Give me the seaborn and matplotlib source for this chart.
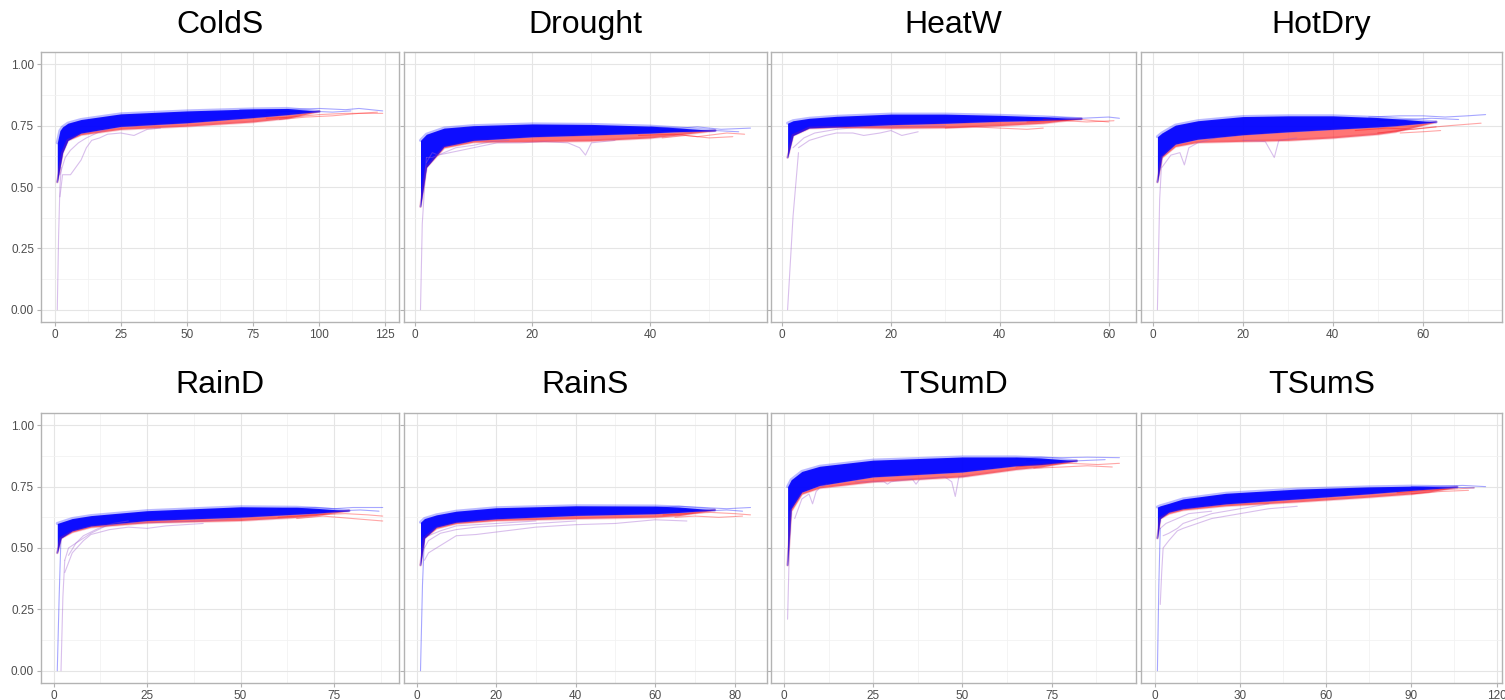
import numpy as np
import pandas as pd
import seaborn as sns
import matplotlib.pyplot as plt
from matplotlib.ticker import MultipleLocator

sns.set_theme(style='white')
plt.rcParams['font.family'] = ['Liberation Sans', 'DejaVu Sans']

PANELS = ['ColdS', 'Drought', 'HeatW', 'HotDry', 'RainD', 'RainS', 'TSumD', 'TSumS']
X_MAX = [124, 57, 62, 74, 88, 84, 94, 116]
X_STEP = [25, 20, 20, 20, 25, 20, 25, 30]

# dense band of curves read at a few x positions:
# top edge, lower edge of the blue curves, lower edge of the red curves
COLDS_X = [1, 2, 3, 5, 10, 25, 50, 75, 88, 100]
COLDS_TOP = [0.68, 0.73, 0.745, 0.76, 0.775, 0.798, 0.81, 0.818, 0.82, 0.808]
COLDS_MID = [0.52, 0.58, 0.64, 0.69, 0.72, 0.747, 0.762, 0.783, 0.795, 0.808]
COLDS_BOT = [0.52, 0.58, 0.64, 0.69, 0.713, 0.735, 0.748, 0.765, 0.78, 0.808]

DROUGHT_X = [1, 2, 5, 10, 20, 30, 40, 44, 51]
DROUGHT_TOP = [0.69, 0.715, 0.74, 0.75, 0.757, 0.755, 0.748, 0.742, 0.73]
DROUGHT_MID = [0.42, 0.58, 0.665, 0.69, 0.705, 0.712, 0.72, 0.725, 0.73]
DROUGHT_BOT = [0.42, 0.58, 0.66, 0.683, 0.685, 0.688, 0.70, 0.71, 0.73]

HEATW_X = [1, 2, 5, 10, 20, 30, 40, 48, 55]
HEATW_TOP = [0.76, 0.77, 0.78, 0.788, 0.797, 0.797, 0.792, 0.786, 0.778]
HEATW_MID = [0.62, 0.71, 0.741, 0.745, 0.754, 0.76, 0.768, 0.772, 0.778]
HEATW_BOT = [0.62, 0.71, 0.74, 0.743, 0.74, 0.742, 0.75, 0.76, 0.778]

HOTDRY_X = [1, 2, 5, 10, 20, 30, 40, 50, 54, 63]
HOTDRY_TOP = [0.705, 0.72, 0.752, 0.77, 0.787, 0.79, 0.79, 0.783, 0.778, 0.765]
HOTDRY_MID = [0.52, 0.625, 0.675, 0.695, 0.713, 0.725, 0.735, 0.745, 0.75, 0.765]
HOTDRY_BOT = [0.52, 0.62, 0.665, 0.682, 0.686, 0.69, 0.70, 0.715, 0.725, 0.765]

RAIND_X = [1, 2, 5, 10, 25, 50, 65, 70, 79]
RAIND_TOP = [0.60, 0.605, 0.62, 0.632, 0.652, 0.668, 0.666, 0.662, 0.652]
RAIND_MID = [0.48, 0.54, 0.57, 0.59, 0.612, 0.626, 0.638, 0.642, 0.652]
RAIND_BOT = [0.48, 0.54, 0.565, 0.585, 0.603, 0.612, 0.625, 0.632, 0.652]

RAINS_X = [1, 2, 5, 10, 20, 40, 60, 66, 75]
RAINS_TOP = [0.605, 0.62, 0.635, 0.65, 0.664, 0.672, 0.671, 0.667, 0.655]
RAINS_MID = [0.43, 0.54, 0.585, 0.605, 0.619, 0.633, 0.64, 0.645, 0.655]
RAINS_BOT = [0.43, 0.54, 0.58, 0.60, 0.612, 0.62, 0.626, 0.632, 0.655]

TSUMD_X = [1, 2, 5, 10, 25, 50, 65, 72, 82]
TSUMD_TOP = [0.75, 0.778, 0.812, 0.833, 0.858, 0.871, 0.871, 0.867, 0.855]
TSUMD_MID = [0.43, 0.66, 0.728, 0.755, 0.79, 0.81, 0.835, 0.84, 0.855]
TSUMD_BOT = [0.43, 0.65, 0.72, 0.745, 0.77, 0.79, 0.82, 0.83, 0.855]

TSUMS_X = [1, 2, 5, 10, 25, 50, 75, 90, 96, 106]
TSUMS_TOP = [0.667, 0.672, 0.682, 0.70, 0.723, 0.74, 0.749, 0.752, 0.751, 0.748]
TSUMS_MID = [0.54, 0.62, 0.646, 0.66, 0.68, 0.70, 0.721, 0.735, 0.74, 0.748]
TSUMS_BOT = [0.54, 0.62, 0.64, 0.655, 0.672, 0.688, 0.707, 0.72, 0.728, 0.748]

# single curves outside the band: (kind, x, y)  b=blue, r=red, p=mixed
COLDS_THIN = [
    ('p', [1, 1.5, 2, 2.5], [0.0, 0.30, 0.50, 0.58]),
    ('p', [2, 3, 4, 6, 8, 10, 12, 14, 17, 20, 25, 30, 32, 35, 40],
     [0.46, 0.55, 0.55, 0.55, 0.58, 0.61, 0.66, 0.69, 0.70, 0.715, 0.72, 0.71, 0.72, 0.735, 0.74]),
    ('p', [2, 4, 6, 9, 12, 16, 20], [0.55, 0.62, 0.65, 0.68, 0.70, 0.72, 0.735]),
    ('b', [70, 85, 100, 110, 115, 124], [0.815, 0.815, 0.82, 0.815, 0.82, 0.81]),
    ('b', [80, 95, 105, 112], [0.805, 0.81, 0.805, 0.81]),
    ('r', [80, 90, 100, 110, 124], [0.78, 0.785, 0.795, 0.80, 0.80]),
    ('r', [85, 95, 105, 115, 122], [0.775, 0.785, 0.79, 0.80, 0.805]),
]
DROUGHT_THIN = [
    ('p', [1, 1.3, 2], [0.0, 0.35, 0.62]),
    ('p', [2, 3, 4, 6, 8, 10, 14, 18, 22, 26, 28, 29, 30, 34],
     [0.60, 0.64, 0.63, 0.64, 0.65, 0.66, 0.68, 0.68, 0.685, 0.68, 0.66, 0.63, 0.68, 0.69]),
    ('p', [2, 3, 5, 7, 10, 13, 16], [0.62, 0.62, 0.64, 0.66, 0.67, 0.685, 0.69]),
    ('b', [40, 45, 48, 52, 57], [0.745, 0.74, 0.745, 0.735, 0.74]),
    ('b', [42, 47, 51, 55], [0.73, 0.725, 0.73, 0.725]),
    ('r', [38, 44, 48, 53, 56], [0.71, 0.715, 0.705, 0.72, 0.715]),
    ('r', [42, 46, 50, 54], [0.70, 0.71, 0.70, 0.705]),
]
HEATW_THIN = [
    ('p', [1, 2, 3], [0.0, 0.38, 0.64]),
    ('p', [3, 5, 8, 10, 13, 15, 18, 20, 22, 25],
     [0.66, 0.69, 0.71, 0.72, 0.72, 0.71, 0.72, 0.73, 0.71, 0.725]),
    ('p', [2, 4, 6, 10, 15, 20, 30], [0.66, 0.70, 0.72, 0.735, 0.745, 0.745, 0.75]),
    ('r', [30, 35, 40, 45, 48], [0.74, 0.745, 0.74, 0.735, 0.74]),
    ('b', [45, 50, 55, 60, 62], [0.78, 0.785, 0.78, 0.785, 0.78]),
    ('r', [45, 50, 55, 60], [0.765, 0.77, 0.775, 0.765]),
    ('r', [48, 52, 56, 61], [0.775, 0.77, 0.765, 0.77]),
]
HOTDRY_THIN = [
    ('p', [1, 1.5, 2], [0.0, 0.45, 0.62]),
    ('p', [2, 4, 6, 7, 8, 10, 14], [0.58, 0.63, 0.64, 0.59, 0.66, 0.68, 0.70]),
    ('p', [20, 25, 27, 28, 32], [0.69, 0.685, 0.62, 0.69, 0.70]),
    ('b', [48, 55, 60, 65, 70, 74], [0.785, 0.79, 0.79, 0.785, 0.79, 0.795]),
    ('b', [50, 56, 62, 68], [0.77, 0.775, 0.78, 0.775]),
    ('r', [45, 52, 58, 63], [0.73, 0.74, 0.735, 0.745]),
    ('r', [50, 55, 60, 66, 73], [0.72, 0.73, 0.74, 0.75, 0.76]),
    ('r', [55, 60, 64], [0.72, 0.725, 0.73]),
]
RAIND_THIN = [
    ('b', [1, 1.5, 2], [0.0, 0.30, 0.55]),
    ('p', [2, 2.5, 3], [0.0, 0.30, 0.45]),
    ('p', [3, 5, 8, 10, 15, 20, 25, 30, 35, 40],
     [0.40, 0.48, 0.53, 0.555, 0.575, 0.585, 0.58, 0.59, 0.595, 0.60]),
    ('p', [3, 4, 6, 10, 14, 20, 30, 40, 50], [0.45, 0.50, 0.52, 0.56, 0.59, 0.60, 0.605, 0.61, 0.62]),
    ('p', [4, 6, 8, 12, 16, 20], [0.47, 0.52, 0.55, 0.58, 0.60, 0.61]),
    ('b', [60, 70, 75, 80, 88], [0.66, 0.665, 0.66, 0.665, 0.665]),
    ('b', [68, 74, 82, 87], [0.655, 0.65, 0.655, 0.65]),
    ('r', [60, 70, 78, 84, 88], [0.625, 0.635, 0.64, 0.635, 0.63]),
    ('r', [65, 72, 80, 88], [0.62, 0.63, 0.62, 0.61]),
]
RAINS_THIN = [
    ('b', [1, 1.5, 2], [0.0, 0.35, 0.55]),
    ('p', [2, 3, 5, 8, 10, 15, 20, 30, 40, 50, 60, 68],
     [0.45, 0.48, 0.50, 0.53, 0.55, 0.555, 0.565, 0.585, 0.595, 0.60, 0.615, 0.61]),
    ('p', [2, 3, 6, 10, 15, 20, 30, 40], [0.50, 0.53, 0.56, 0.575, 0.585, 0.59, 0.60, 0.61]),
    ('p', [3, 6, 10, 20, 30], [0.55, 0.57, 0.59, 0.60, 0.61]),
    ('b', [60, 66, 72, 78, 84], [0.665, 0.67, 0.665, 0.66, 0.665]),
    ('b', [66, 72, 78, 82], [0.655, 0.65, 0.655, 0.65]),
    ('r', [62, 68, 74, 80, 84], [0.635, 0.64, 0.645, 0.64, 0.635]),
    ('r', [65, 70, 76, 82], [0.625, 0.63, 0.625, 0.63]),
]
TSUMD_THIN = [
    ('p', [1, 1.5, 2], [0.21, 0.50, 0.65]),
    ('p', [3, 5, 7, 8, 9, 10, 12], [0.62, 0.70, 0.72, 0.68, 0.73, 0.745, 0.76]),
    ('p', [20, 28, 29, 30, 36, 37, 38, 45, 47, 48, 49, 52],
     [0.77, 0.77, 0.76, 0.77, 0.78, 0.76, 0.78, 0.79, 0.77, 0.71, 0.79, 0.795]),
    ('b', [65, 72, 78, 85, 94], [0.865, 0.87, 0.868, 0.87, 0.868]),
    ('b', [68, 75, 82, 90], [0.855, 0.858, 0.855, 0.86]),
    ('r', [65, 72, 80, 88, 94], [0.83, 0.84, 0.845, 0.84, 0.845]),
    ('r', [70, 78, 85, 92], [0.825, 0.83, 0.835, 0.83]),
]
TSUMS_THIN = [
    ('b', [1, 1.5, 2], [0.0, 0.35, 0.58]),
    ('p', [2, 2.5, 3, 5, 8, 10, 15, 20, 25, 30, 40, 50],
     [0.27, 0.40, 0.50, 0.53, 0.57, 0.58, 0.60, 0.62, 0.63, 0.64, 0.66, 0.67]),
    ('p', [3, 5, 8, 10, 15, 20, 25, 30, 40], [0.55, 0.56, 0.58, 0.60, 0.62, 0.64, 0.65, 0.66, 0.68]),
    ('p', [2, 4, 8, 12, 20], [0.58, 0.60, 0.62, 0.64, 0.65]),
    ('b', [90, 100, 108, 116], [0.75, 0.752, 0.755, 0.75]),
    ('b', [92, 102, 112], [0.745, 0.748, 0.745]),
    ('r', [85, 95, 105, 112], [0.725, 0.735, 0.74, 0.745]),
    ('r', [90, 100, 110], [0.72, 0.73, 0.735]),
]

BANDS = [
    (COLDS_X, COLDS_TOP, COLDS_MID, COLDS_BOT, COLDS_THIN),
    (DROUGHT_X, DROUGHT_TOP, DROUGHT_MID, DROUGHT_BOT, DROUGHT_THIN),
    (HEATW_X, HEATW_TOP, HEATW_MID, HEATW_BOT, HEATW_THIN),
    (HOTDRY_X, HOTDRY_TOP, HOTDRY_MID, HOTDRY_BOT, HOTDRY_THIN),
    (RAIND_X, RAIND_TOP, RAIND_MID, RAIND_BOT, RAIND_THIN),
    (RAINS_X, RAINS_TOP, RAINS_MID, RAINS_BOT, RAINS_THIN),
    (TSUMD_X, TSUMD_TOP, TSUMD_MID, TSUMD_BOT, TSUMD_THIN),
    (TSUMS_X, TSUMS_TOP, TSUMS_MID, TSUMS_BOT, TSUMS_THIN),
]

KIND_COLOR = {'b': '#0000FF', 'r': '#FF0000', 'p': '#A060D0'}
KIND_ALPHA = {'b': 0.35, 'r': 0.35, 'p': 0.4}

W, H = 1505, 700
fig = plt.figure(figsize=(W / 100, H / 100), dpi=100)
fig.patch.set_facecolor('white')

col_l = [41, 404, 771, 1141]
col_r = [399, 767, 1136, 1502]
row_t = [52, 413]
row_b = [322, 683]

for i, name in enumerate(PANELS):
    r, c = divmod(i, 4)
    l, rr, t, b = col_l[c], col_r[c], row_t[r], row_b[r]
    ax = fig.add_axes([l / W, 1 - b / H, (rr - l) / W, (b - t) / H])
    bx, top, mid, bot, thin = BANDS[i]

    # thin single curves
    rows = []
    for k, (kind, xs, ys) in enumerate(thin):
        for x, y in zip(xs, ys):
            rows.append({'line': k, 'kind': kind, 'x': x, 'y': y})
    df = pd.DataFrame(rows)
    for kind in ['p', 'r', 'b']:
        sub = df[df['kind'] == kind]
        if len(sub):
            sns.lineplot(data=sub, x='x', y='y', units='line', estimator=None, sort=False,
                         color=KIND_COLOR[kind], alpha=KIND_ALPHA[kind], lw=0.8, ax=ax)

    # dense band: red curves underneath, blue ones on top
    ax.fill_between(bx, bot, mid, color='#FF1A1A', alpha=0.6, lw=0)
    ax.plot(bx, bot, color='#E03050', alpha=0.25, lw=2)
    ax.fill_between(bx, mid, top, color='#0000FF', alpha=0.95, lw=0)
    ax.plot(bx, top, color='#2020FF', alpha=0.3, lw=2.2)
    ax.plot(bx, mid, color='#3010E0', alpha=0.5, lw=1.2)

    xmax = X_MAX[i]
    pad = 0.05 * (xmax - 1)
    ax.set_xlim(1 - pad, xmax + pad)
    ax.set_ylim(-0.05, 1.05)
    ax.xaxis.set_major_locator(MultipleLocator(X_STEP[i]))
    ax.xaxis.set_minor_locator(MultipleLocator(X_STEP[i] / 2))
    ax.yaxis.set_major_locator(MultipleLocator(0.25))
    ax.yaxis.set_minor_locator(MultipleLocator(0.125))
    ax.grid(which='major', color='#E5E5E5', lw=0.8)
    ax.grid(which='minor', color='#F2F2F2', lw=0.6)
    ax.set_axisbelow(True)
    for s in ax.spines.values():
        s.set_color('#B3B3B3')
        s.set_linewidth(1.0)
    ax.tick_params(which='major', length=3, width=0.8, color='#B3B3B3',
                   labelsize=8.5, labelcolor='#4D4D4D', pad=2, bottom=True, left=True)
    ax.tick_params(which='minor', length=0)
    ax.set_xlabel('')
    ax.set_ylabel('')
    if c == 0:
        ax.set_yticks([0, 0.25, 0.5, 0.75, 1.0])
        ax.set_yticklabels(['0.00', '0.25', '0.50', '0.75', '1.00'])
    else:
        ax.set_yticklabels([])
    ax.set_xticklabels([str(int(v)) for v in ax.get_xticks()])
    ax.set_xlim(1 - pad, xmax + pad)

    fig.text((l + rr) / 2 / W, 1 - (25 if r == 0 else 385) / H, name,
             ha='center', va='center', fontsize=23, color='black')

fig.savefig('out.png', dpi=100, facecolor='white')
